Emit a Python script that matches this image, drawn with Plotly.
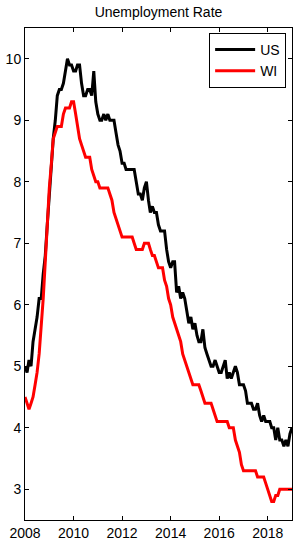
import pandas as pd
import plotly.graph_objects as go

start_month = "2008-01-01"
end_month = "2019-01-01"

us_rate = [
    5.0, 4.9, 5.1, 5.0, 5.4, 5.6, 5.8, 6.1, 6.1, 6.5, 6.8, 7.3,   # 2008
    7.8, 8.3, 8.7, 9.0, 9.4, 9.5, 9.5, 9.6, 9.8, 10.0, 9.9, 9.9,  # 2009
    9.8, 9.8, 9.9, 9.9, 9.6, 9.4, 9.4, 9.5, 9.5, 9.4, 9.8, 9.3,   # 2010
    9.1, 9.0, 9.0, 9.1, 9.0, 9.1, 9.0, 9.0, 9.0, 8.8, 8.6, 8.5,   # 2011
    8.3, 8.3, 8.2, 8.2, 8.2, 8.2, 8.2, 8.0, 7.8, 7.8, 7.7, 7.9,   # 2012
    8.0, 7.7, 7.5, 7.6, 7.5, 7.5, 7.3, 7.2, 7.2, 7.2, 6.9, 6.7,   # 2013
    6.6, 6.7, 6.7, 6.2, 6.3, 6.1, 6.2, 6.1, 5.9, 5.7, 5.8, 5.6,   # 2014
    5.7, 5.5, 5.4, 5.4, 5.6, 5.3, 5.2, 5.1, 5.0, 5.0, 5.1, 5.0,   # 2015
    4.9, 4.9, 5.0, 5.1, 4.8, 4.9, 4.8, 4.9, 5.0, 4.9, 4.7, 4.7,   # 2016
    4.7, 4.6, 4.4, 4.4, 4.4, 4.3, 4.3, 4.4, 4.2, 4.1, 4.2, 4.1,   # 2017
    4.1, 4.1, 4.0, 4.0, 3.8, 4.0, 3.8, 3.8, 3.7, 3.8, 3.7, 3.9,   # 2018
    4.0,                                                          # 2019
]

wi_rate = [
    4.5, 4.4, 4.3, 4.4, 4.5, 4.7, 4.9, 5.2, 5.6, 6.1, 6.7, 7.3,   # 2008
    7.9, 8.3, 8.7, 8.8, 8.9, 8.9, 8.9, 9.1, 9.2, 9.2, 9.2, 9.3,   # 2009
    9.3, 9.1, 8.9, 8.7, 8.6, 8.5, 8.4, 8.4, 8.4, 8.2, 8.1, 8.0,   # 2010
    8.0, 7.9, 7.9, 7.9, 7.9, 7.9, 7.8, 7.7, 7.5, 7.4, 7.3, 7.2,   # 2011
    7.1, 7.1, 7.1, 7.1, 7.1, 7.1, 7.0, 6.9, 6.9, 6.9, 6.9, 7.0,   # 2012
    7.0, 7.0, 6.9, 6.8, 6.8, 6.7, 6.6, 6.6, 6.6, 6.4, 6.3, 6.1,   # 2013
    6.0, 5.8, 5.7, 5.6, 5.5, 5.4, 5.2, 5.1, 5.0, 4.9, 4.8, 4.7,   # 2014
    4.7, 4.7, 4.7, 4.6, 4.5, 4.4, 4.4, 4.4, 4.4, 4.3, 4.2, 4.1,   # 2015
    4.1, 4.1, 4.1, 4.1, 4.1, 4.0, 4.0, 4.0, 3.8, 3.7, 3.6, 3.4,   # 2016
    3.3, 3.3, 3.3, 3.3, 3.3, 3.3, 3.3, 3.2, 3.2, 3.2, 3.2, 3.1,   # 2017
    3.0, 2.9, 2.8, 2.8, 2.9, 2.9, 3.0, 3.0, 3.0, 3.0, 3.0, 3.0,   # 2018
    3.0,                                                          # 2019
]

series_names = ["US", "WI"]
chart_title = "Unemployment Rate"

months = pd.date_range(start_month, end_month, freq="MS")

FONT = "Liberation Sans, Arial, sans-serif"

fig = go.Figure()
fig.add_trace(go.Scatter(x=months, y=us_rate, mode="lines", name=series_names[0],
                         line=dict(color="black", width=3)))
fig.add_trace(go.Scatter(x=months, y=wi_rate, mode="lines", name=series_names[1],
                         line=dict(color="#ff0000", width=3)))

axis_common = dict(
    showline=True, linecolor="black", linewidth=1, mirror="ticks",
    ticks="inside", ticklen=4, tickwidth=1, tickcolor="black",
    showgrid=False, zeroline=False,
    tickfont=dict(family=FONT, size=14, color="black"),
)

fig.update_xaxes(type="date", range=[start_month, end_month],
                 dtick="M24", tick0="2008-01-01", tickformat="%Y", **axis_common)
fig.update_yaxes(range=[2.5, 10.5], dtick=1, tick0=3, **axis_common)

fig.update_layout(
    width=294, height=542,
    margin=dict(l=25, r=1, t=28, b=19),
    paper_bgcolor="white", plot_bgcolor="white",
    title=dict(text=chart_title, x=0.5, xref="paper", y=1 - 12 / 542,
               yref="container", xanchor="center", yanchor="middle",
               font=dict(family=FONT, size=14, color="black")),
    legend=dict(x=0.978, y=0.99, xanchor="right", yanchor="top",
                bgcolor="white", bordercolor="black", borderwidth=1,
                font=dict(family=FONT, size=14, color="black"),
                itemwidth=40, tracegroupgap=0),
    showlegend=True,
)

fig.write_html("out.html", config={"displayModeBar": False},
               post_script="document.body.style.margin='0';document.body.style.overflow='hidden';")
